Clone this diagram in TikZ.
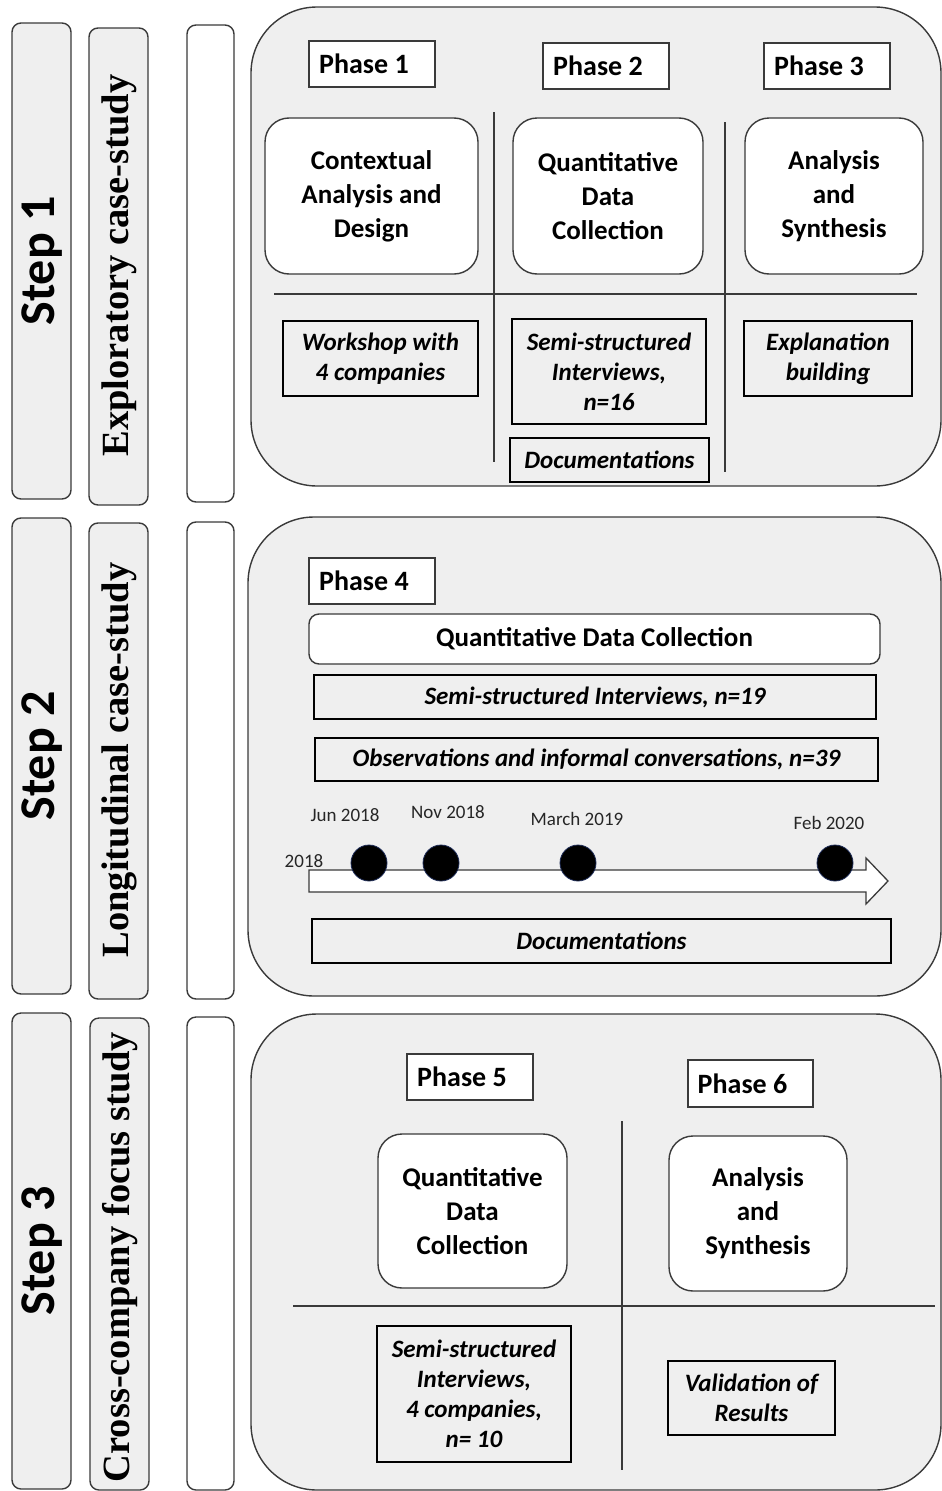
\documentclass[tikz,border=0pt]{standalone}
\usepackage{fontspec}
\setmainfont{Carlito}
\newfontfamily\tnr{Liberation Serif}
\definecolor{linec}{HTML}{3A3A3A}
\definecolor{boxgray}{HTML}{EFEFEF}
\definecolor{navy}{HTML}{1C2A55}
\newcommand{\phtxt}[1]{#1\kern16pt\null}
\begin{document}
\begin{tikzpicture}[x=1pt,y=-1pt,
  outer/.style={draw=linec, fill=boxgray, line width=1.4pt, rounded corners=66pt, inner sep=0pt},
  colg/.style={draw=linec, fill=boxgray, line width=1.4pt, rounded corners=9pt, inner sep=0pt},
  colw/.style={colg, fill=white},
  phasebox/.style={draw=linec, fill=white, line width=1.2pt, inner sep=0pt, font=\fontsize{28}{32}\selectfont\bfseries},
  rbox/.style={draw=linec, fill=white, line width=1.4pt, rounded corners=24pt, align=center, inner sep=0pt, font=\fontsize{27}{34}\selectfont\bfseries},
  ibox/.style={draw=black, line width=2.8pt, inner sep=0pt, align=center, font=\fontsize{25}{30}\selectfont\bfseries\itshape},
  sepline/.style={line width=1.2pt, draw=linec},
  steptext/.style={rotate=90, font=\fontsize{50}{50}\selectfont\bfseries},
  studytext/.style={rotate=90, font=\tnr\fontsize{38.5}{38.5}\selectfont\bfseries},
  datelbl/.style={font=\fontsize{19}{19}\selectfont, text=black!85},
  dot/.style={circle, fill=black, draw=navy, line width=0.8pt, minimum size=36pt, inner sep=0pt}
]
\useasboundingbox (0,0) rectangle (942,1491);

% ---------------- Step 1 ----------------
\node[colg, minimum width=59, minimum height=476] (s1) at (41.5,261) {};
\node[steptext] (s1t) at (42,261) {Step 1};
\node[colg, minimum width=59, minimum height=477] (e1) at (118.5,266.5) {};
\node[studytext] (e1t) at (119,265.5) {Exploratory case-study};
\node[colw, minimum width=47, minimum height=477] (w1) at (210.5,263.5) {};
\node[outer, minimum width=690, minimum height=479] (big1) at (596,246.5) {};

\node[phasebox, minimum width=126, minimum height=46] (ph1) at (372,64) {\phtxt{Phase 1}};
\node[phasebox, minimum width=126, minimum height=46] (ph2) at (606,66) {\phtxt{Phase 2}};
\node[phasebox, minimum width=126, minimum height=46] (ph3) at (827,66) {\phtxt{Phase 3}};

\coordinate (h1a) at (274,294); \coordinate (h1b) at (917,294);
\coordinate (v1a) at (494,112); \coordinate (v1b) at (494,462);
\coordinate (v2a) at (725,122); \coordinate (v2b) at (725,472);
\draw[sepline] (h1a) -- (h1b);
\draw[sepline] (v1a) -- (v1b);
\draw[sepline] (v2a) -- (v2b);

\node[rbox, minimum width=213, minimum height=156] (ca) at (371.5,196) {Contextual\\Analysis and\\Design};
\node[rbox, minimum width=190, minimum height=156] (qd) at (608,196) {Quantitative\\Data\\Collection};
\node[rbox, minimum width=178, minimum height=156] (as) at (834,196) {Analysis\\and\\Synthesis};

\node[ibox, minimum width=195, minimum height=75] (ws) at (380.5,358.5) {Workshop with\\4 companies};
\node[ibox, minimum width=194, minimum height=105] (ss) at (609,371.5) {Semi-structured\\Interviews,\\n=16};
\node[ibox, minimum width=199, minimum height=44] (doc1) at (609.5,460) {Documentations};
\node[ibox, minimum width=168, minimum height=75] (eb) at (828,358.5) {Explanation\\building};

% ---------------- Step 2 ----------------
\node[colg, minimum width=59, minimum height=476] (s2) at (41.5,756) {};
\node[steptext] (s2t) at (42,756) {Step 2};
\node[colg, minimum width=59, minimum height=476] (e2) at (118.5,761) {};
\node[studytext] (e2t) at (119,760) {Longitudinal case-study};
\node[colw, minimum width=47, minimum height=477] (w2) at (210.5,760.5) {};
\node[outer, minimum width=693, minimum height=479] (big2) at (594.5,756.5) {};

\node[phasebox, minimum width=126, minimum height=46] (ph4) at (372,581) {\phtxt{Phase 4}};
\node[rbox, rounded corners=10pt, minimum width=571, minimum height=50] (qd4) at (594.5,639) {Quantitative Data Collection};
\node[ibox, minimum width=562, minimum height=44] (si4) at (595,697) {Semi-structured Interviews, n=19};
\node[ibox, minimum width=563, minimum height=43] (ob4) at (596.5,759.5) {Observations and informal conversations, n=39};

\coordinate (ar1) at (309,870); \coordinate (ar2) at (866,870); \coordinate (ar3) at (866,858);
\coordinate (ar4) at (888,881); \coordinate (ar5) at (866,904); \coordinate (ar6) at (866,892);
\coordinate (ar7) at (309,892);
\draw[draw=linec, fill=white, line width=1.3pt, line join=miter] (ar1) -- (ar2) -- (ar3) -- (ar4) -- (ar5) -- (ar6) -- (ar7) -- cycle;

\node[dot] (d1) at (369,863) {};
\node[dot] (d2) at (441,863) {};
\node[dot] (d3) at (578,863) {};
\node[dot] (d4) at (835,863) {};

\node[datelbl] (l1) at (345,815) {Jun 2018};
\node[datelbl] (l2) at (448,812) {Nov 2018};
\node[datelbl] (l3) at (577,819) {March 2019};
\node[datelbl] (l4) at (829,823) {Feb 2020};
\node[datelbl] (l0) at (304,861) {2018};

\node[ibox, minimum width=579, minimum height=44] (doc4) at (601.5,941) {Documentations};

% ---------------- Step 3 ----------------
\node[colg, minimum width=59, minimum height=476] (s3) at (41.5,1251) {};
\node[steptext] (s3t) at (42,1251) {Step 3};
\node[colg, minimum width=59, minimum height=472] (c3) at (119.5,1254) {};
\node[studytext] (c3t) at (120,1257) {Cross-company focus study};
\node[colw, minimum width=47, minimum height=473] (w3) at (210.5,1253.5) {};
\node[outer, minimum width=690, minimum height=476] (big3) at (596,1252) {};

\node[phasebox, minimum width=126, minimum height=46] (ph5) at (470,1077) {\phtxt{Phase 5}};
\node[phasebox, minimum width=125, minimum height=47] (ph6) at (750.5,1083.5) {\phtxt{Phase 6}};

\coordinate (h3a) at (293,1306); \coordinate (h3b) at (935,1306);
\coordinate (v3a) at (622,1121); \coordinate (v3b) at (622,1470);
\draw[sepline] (h3a) -- (h3b);
\draw[sepline] (v3a) -- (v3b);

\node[rbox, minimum width=189, minimum height=154] (qd5) at (472.5,1211) {Quantitative\\Data\\Collection};
\node[rbox, minimum width=178, minimum height=155] (as6) at (758,1213.5) {Analysis\\and\\Synthesis};

\node[ibox, minimum width=194, minimum height=136] (si5) at (474,1394) {Semi-structured\\Interviews,\\4 companies,\\n= 10};
\node[ibox, minimum width=167, minimum height=74] (vr) at (751.5,1398) {Validation of\\Results};

\end{tikzpicture}
\end{document}
